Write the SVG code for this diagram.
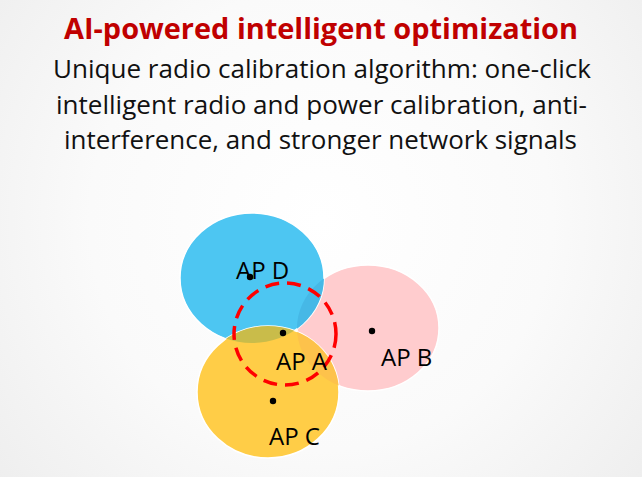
<svg xmlns="http://www.w3.org/2000/svg" width="642" height="477" viewBox="0 0 642 477">
<defs>
<radialGradient id="bg" cx="321" cy="220" r="420" gradientUnits="userSpaceOnUse">
<stop offset="0" stop-color="#FFFFFF"/>
<stop offset="0.55" stop-color="#FAFAFA"/>
<stop offset="1" stop-color="#EEEEEE"/>
</radialGradient>
<clipPath id="clipBlue"><ellipse cx="252" cy="278" rx="72" ry="65"/></clipPath>
<clipPath id="clipPink"><ellipse cx="368" cy="328" rx="71" ry="63"/></clipPath>
<style>
.title{font-family:"Open Sans","Liberation Sans",sans-serif;font-weight:bold;font-size:29px;fill:#C00000}
.sub{font-family:"Open Sans","Liberation Sans",sans-serif;font-size:25px;fill:#111111}
.lbl{font-family:"Open Sans","Liberation Sans",sans-serif;font-size:24px;fill:#000000}
.cell{stroke:#FFFFFF;stroke-width:1.5}
.dot{fill:#000000}
</style>
</defs>
<rect x="0" y="0" width="642" height="477" fill="url(#bg)"/>
<g id="header">
<text class="title" x="64" y="39" textLength="514" lengthAdjust="spacingAndGlyphs">AI-powered intelligent optimization</text>
<text class="sub" x="53" y="78" textLength="538" lengthAdjust="spacingAndGlyphs">Unique radio calibration algorithm: one-click</text>
<text class="sub" x="56" y="114" textLength="531" lengthAdjust="spacingAndGlyphs">intelligent radio and power calibration, anti-</text>
<text class="sub" x="64" y="149" textLength="513" lengthAdjust="spacingAndGlyphs">interference, and stronger network signals</text>
</g>
<g id="apB"><ellipse class="cell" cx="368" cy="328" rx="71" ry="63" fill="#FFCCCE"/></g>
<g id="apD"><ellipse class="cell" cx="252" cy="278" rx="72" ry="65" fill="#4DC6F2"/>
<ellipse cx="368" cy="328" rx="71" ry="63" fill="#46B8E6" clip-path="url(#clipBlue)"/></g>
<g id="apC"><ellipse class="cell" cx="268" cy="392" rx="71" ry="66" fill="#FFCD47"/>
<ellipse cx="268" cy="392" rx="71" ry="66" fill="#C9BC4A" clip-path="url(#clipBlue)"/>
<ellipse cx="268" cy="392" rx="71" ry="66" fill="#FDC24B" clip-path="url(#clipPink)"/></g>
<g id="connectors"></g>
<g id="apA"><circle cx="285" cy="334" r="51" fill="none" stroke="#FF0000" stroke-width="3.5" stroke-dasharray="14 8"/>
<circle class="dot" cx="283" cy="333" r="3.2"/>
<text class="lbl" x="276" y="370">AP A</text></g>
<g id="labels">
<circle class="dot" cx="250" cy="277" r="3.2"/>
<text class="lbl" x="236" y="279">AP D</text>
<circle class="dot" cx="372" cy="331" r="3.2"/>
<text class="lbl" x="381" y="366">AP B</text>
<circle class="dot" cx="273" cy="401" r="3.2"/>
<text class="lbl" x="269" y="445">AP C</text>
</g>
</svg>
